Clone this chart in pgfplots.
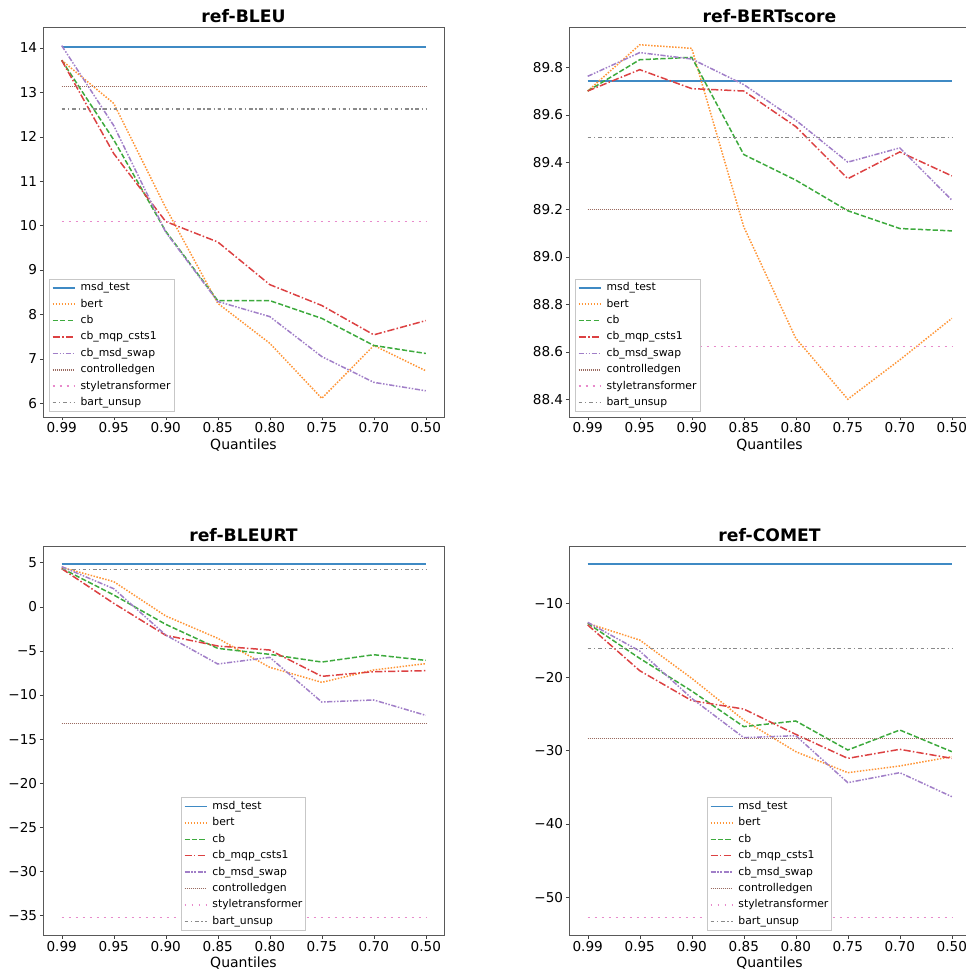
\documentclass[border=0pt]{standalone}
\usepackage{fontspec}
\setmainfont{DejaVu Sans}
\usepackage{pgfplots}
\usepackage{pgfplotstable}
\pgfplotsset{compat=1.18}

\definecolor{mplA}{HTML}{3F8AC4}
\definecolor{mplB}{HTML}{FF9536}
\definecolor{mplC}{HTML}{3DAA3D}
\definecolor{mplD}{HTML}{DC4142}
\definecolor{mplE}{HTML}{A17FC8}
\definecolor{mplF}{HTML}{9A6B61}
\definecolor{mplG}{HTML}{E88ACB}
\definecolor{mplH}{HTML}{8A8A8A}

\pgfplotscreateplotcyclelist{mpl}{%
  {draw=mplA, line width=0.9pt, solid},
  {draw=mplB, line width=0.75pt, dash pattern=on 0.75pt off 0.75pt},
  {draw=mplC, line width=0.75pt, dash pattern=on 2.6pt off 1.1pt},
  {draw=mplD, line width=0.75pt, dash pattern=on 3.6pt off 1.1pt on 0.75pt off 1.1pt},
  {draw=mplE, line width=0.75pt, dash pattern=on 2.6pt off 0.8pt on 0.75pt off 0.8pt on 0.75pt off 0.8pt},
  {draw=mplF, line width=0.75pt, dash pattern=on 0.5pt off 0.5pt},
  {draw=mplG, line width=0.75pt, dash pattern=on 0.9pt off 2.6pt},
  {draw=mplH, line width=0.75pt, dash pattern=on 1.8pt off 1.4pt on 0.6pt off 1.4pt}%
}

\pgfplotstableread{
x msd bert cb mqp swap cg st bart
0 14.02 13.72 13.72 13.72 14.05 13.13 10.09 12.62
1 14.02 12.75 11.93 11.62 12.25 13.13 10.09 12.62
2 14.02 10.40 9.87 10.09 9.85 13.13 10.09 12.62
3 14.02 8.25 8.31 9.63 8.29 13.13 10.09 12.62
4 14.02 7.35 8.31 8.67 7.95 13.13 10.09 12.62
5 14.02 6.11 7.91 8.20 7.05 13.13 10.09 12.62
6 14.02 7.30 7.30 7.54 6.47 13.13 10.09 12.62
7 14.02 6.73 7.12 7.86 6.28 13.13 10.09 12.62
}\tblA
\pgfplotstableread{
x msd bert cb mqp swap cg st bart
0 89.741 89.700 89.700 89.700 89.762 89.20 88.623 89.504
1 89.741 89.895 89.832 89.790 89.862 89.20 88.623 89.504
2 89.741 89.880 89.842 89.710 89.835 89.20 88.623 89.504
3 89.741 89.127 89.432 89.700 89.727 89.20 88.623 89.504
4 89.741 88.657 89.324 89.550 89.577 89.20 88.623 89.504
5 89.741 88.400 89.195 89.330 89.400 89.20 88.623 89.504
6 89.741 88.566 89.120 89.443 89.460 89.20 88.623 89.504
7 89.741 88.741 89.110 89.342 89.240 89.20 88.623 89.504
}\tblB
\pgfplotstableread{
x msd bert cb mqp swap cg st bart
0 4.85 4.47 4.36 4.32 4.55 -13.24 -35.19 4.20
1 4.85 2.85 1.34 0.39 2.05 -13.24 -35.19 4.20
2 4.85 -1.04 -1.99 -3.23 -3.20 -13.24 -35.19 4.20
3 4.85 -3.57 -4.71 -4.44 -6.48 -13.24 -35.19 4.20
4 4.85 -6.86 -5.39 -4.90 -5.73 -13.24 -35.19 4.20
5 4.85 -8.56 -6.26 -7.88 -10.79 -13.24 -35.19 4.20
6 4.85 -7.16 -5.43 -7.35 -10.56 -13.24 -35.19 4.20
7 4.85 -6.44 -6.07 -7.24 -12.30 -13.24 -35.19 4.20
}\tblC
\pgfplotstableread{
x msd bert cb mqp swap cg st bart
0 -4.55 -12.68 -12.68 -12.90 -12.54 -28.34 -52.72 -16.08
1 -4.55 -14.95 -17.45 -19.13 -16.45 -28.34 -52.72 -16.08
2 -4.55 -20.17 -21.90 -23.21 -22.90 -28.34 -52.72 -16.08
3 -4.55 -25.85 -26.75 -24.35 -28.25 -28.34 -52.72 -16.08
4 -4.55 -30.16 -25.98 -27.80 -27.98 -28.34 -52.72 -16.08
5 -4.55 -33.02 -29.93 -31.07 -34.38 -28.34 -52.72 -16.08
6 -4.55 -32.11 -27.21 -29.84 -33.02 -28.34 -52.72 -16.08
7 -4.55 -30.84 -30.16 -31.07 -36.29 -28.34 -52.72 -16.08
}\tblD

\newcommand{\plotall}[1]{%
  \addplot+[no marks] table[x=x,y=msd]{#1};
  \addplot+[no marks] table[x=x,y=bert]{#1};
  \addplot+[no marks] table[x=x,y=cb]{#1};
  \addplot+[no marks] table[x=x,y=mqp]{#1};
  \addplot+[no marks] table[x=x,y=swap]{#1};
  \addplot+[no marks] table[x=x,y=cg]{#1};
  \addplot+[no marks] table[x=x,y=st]{#1};
  \addplot+[no marks] table[x=x,y=bart]{#1};
  \legend{msd\_test, bert, cb, cb\_mqp\_csts1, cb\_msd\_swap, controlledgen, styletransformer, bart\_unsup}
}

\pgfplotsset{
  panel/.style={
    scale only axis, width=200.5pt, anchor=south west,
    cycle list name=mpl,
    xmin=-0.36, xmax=7.35, xtick={0,...,7},
    xticklabels={0.99,0.95,0.90,0.85,0.80,0.75,0.70,0.50},
    tick align=outside, tick pos=left, major tick length=1.6pt,
    axis line style={black!65},
    tick style={black!75},
    ticklabel style={font=\fontsize{6.8}{8}\selectfont},
    xticklabel style={yshift=2.2pt},
    yticklabel style={xshift=2.2pt},
    /pgf/number format/assume math mode=true,
    every axis title shift=0pt,
    title style={at={(0.5,1)}, anchor=base, yshift=2.2pt, font=\bfseries\fontsize{8.6}{10}\selectfont},
    xlabel style={font=\fontsize{7}{8}\selectfont, yshift=4.2pt},
    xlabel={Quantiles},
    legend cell align=left,
    legend image code/.code={\draw[##1] (0pt,0pt) -- (11pt,0pt);},
    legend style={font=\fontsize{5.4}{6}\selectfont, draw=black!22,
      fill=white, inner sep=1.2pt, row sep=1.7pt, column sep=2pt,
      nodes={inner sep=0.5pt, text height=4.2pt, text depth=1.3pt}},
  }
}

\begin{document}
\begin{tikzpicture}
\useasboundingbox (0,0) rectangle (482.5pt,486.5pt);
% top-left
\begin{axis}[panel, at={(21.5pt,278pt)}, height=195pt,
  title={ref-BLEU}, ymin=5.69, ymax=14.47, ytick={6,...,14},
  legend style={at={(0.015,0.013)}, anchor=south west}]
\plotall{\tblA}
\end{axis}
% top-right
\begin{axis}[panel, at={(284.5pt,278pt)}, height=195pt,
  title={ref-BERTscore}, ymin=88.325, ymax=89.97,
  ytick={88.4,88.6,88.8,89.0,89.2,89.4,89.6,89.8},
  yticklabel style={/pgf/number format/.cd, fixed, fixed zerofill, precision=1},
  legend style={at={(0.015,0.013)}, anchor=south west}]
\plotall{\tblB}
\end{axis}
% bottom-left
\begin{axis}[panel, at={(21.5pt,18.65pt)}, height=194.85pt,
  title={ref-BLEURT}, ymin=-37.27, ymax=6.89,
  ytick={5,0,-5,-10,-15,-20,-25,-30,-35},
  yticklabels={5,0,−5,−10,−15,−20,−25,−30,−35},
  legend style={at={(0.5,0.013)}, anchor=south}]
\plotall{\tblC}
\end{axis}
% bottom-right
\begin{axis}[panel, at={(284.5pt,18.65pt)}, height=194.85pt,
  title={ref-COMET}, ymin=-55.23, ymax=-2.14,
  ytick={-10,-20,-30,-40,-50},
  yticklabels={−10,−20,−30,−40,−50},
  legend style={at={(0.5,0.013)}, anchor=south}]
\plotall{\tblD}
\end{axis}
\end{tikzpicture}
\end{document}
